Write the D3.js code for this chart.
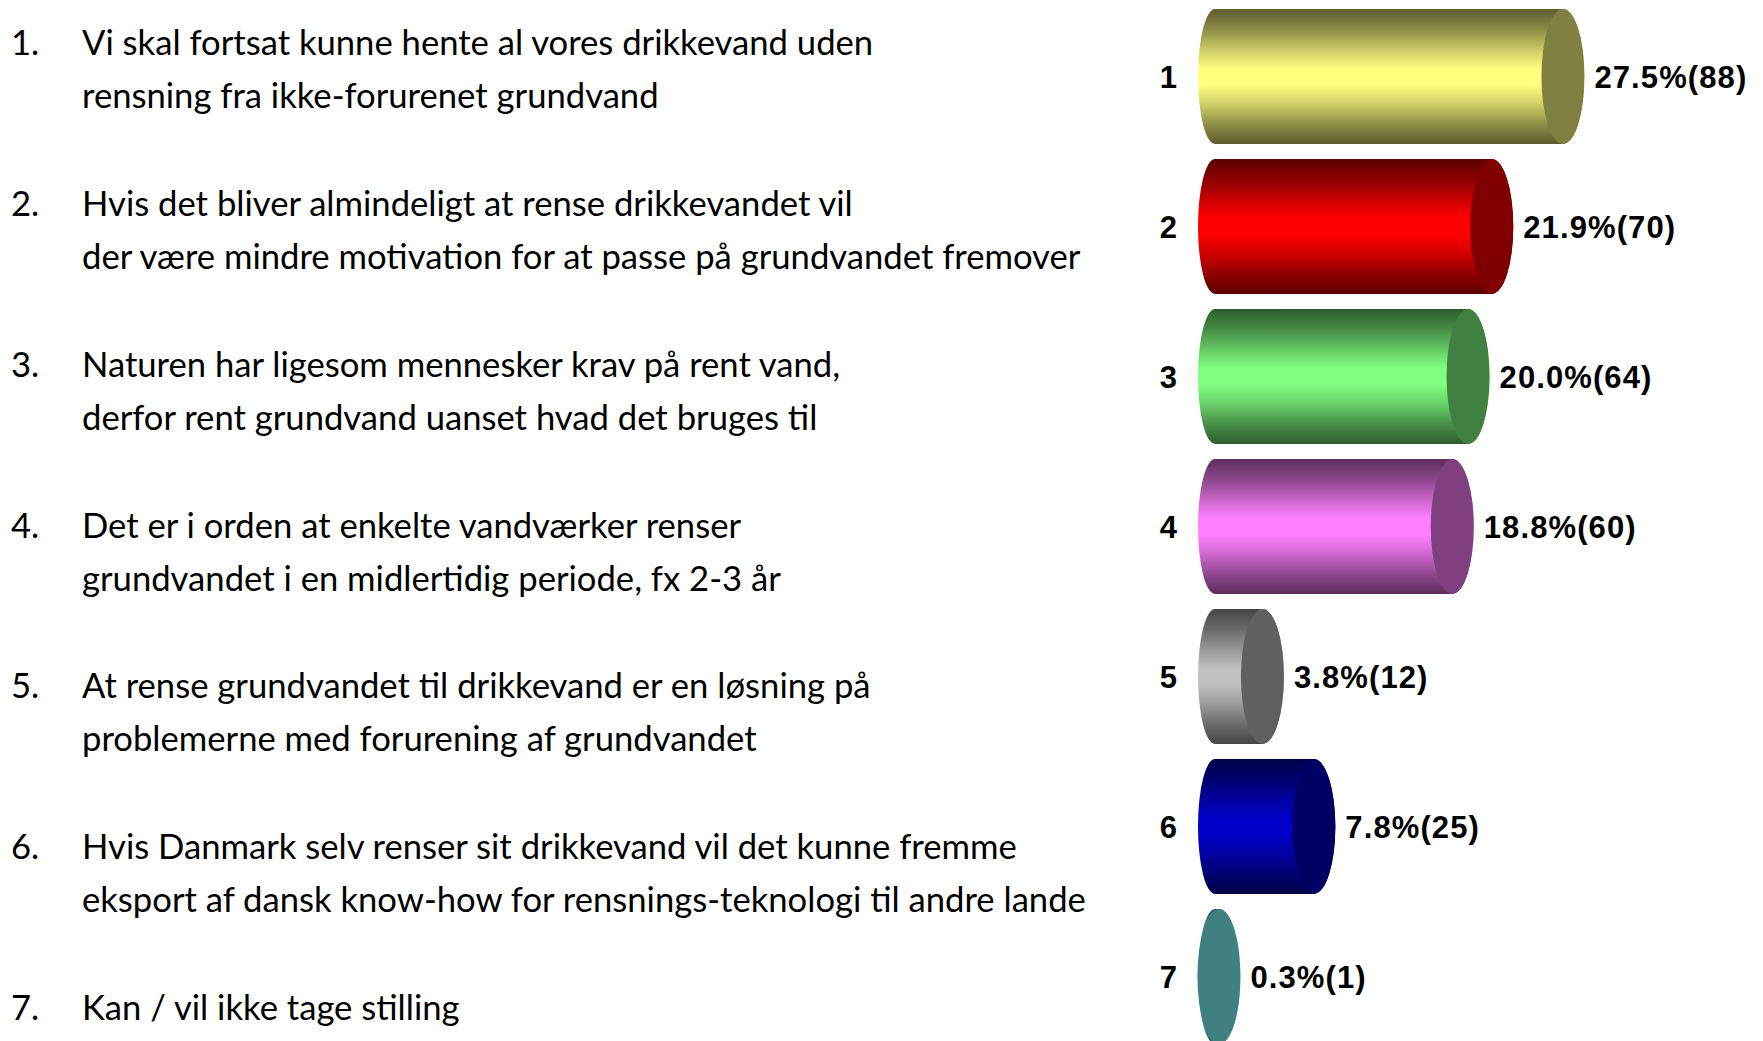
<!DOCTYPE html>
<html lang="da">
<head>
<meta charset="UTF-8">
<title>Grundvand</title>
<script src="https://cdn.jsdelivr.net/npm/d3@7"></script>
<style>
  html, body { margin: 0; padding: 0; background: #fff; }
  svg { display: block; }
  .stmt { font-family: Lato, "Open Sans", sans-serif; fill: #000; }
  .lbl { font-family: "Liberation Sans", Arial, sans-serif; font-weight: bold; fill: #000; }
</style>
</head>
<body>
<svg id="chart" width="1763" height="1041"></svg>
<script>
// data
const categories = ["1", "2", "3", "4", "5", "6", "7"];
const counts = [88, 70, 64, 60, 12, 25, 1];
const percents = [27.5, 21.9, 20.0, 18.8, 3.8, 7.8, 0.3];
const colors = ["#ffff80", "#ff0000", "#80ff80", "#ff80ff", "#c0c0c0", "#0000c8", "#80ffff"];
const statements = [
  ["Vi skal fortsat kunne hente al vores drikkevand uden", "rensning fra ikke-forurenet grundvand"],
  ["Hvis det bliver almindeligt at rense drikkevandet vil", "der være mindre motivation for at passe på grundvandet fremover"],
  ["Naturen har ligesom mennesker krav på rent vand,", "derfor rent grundvand uanset hvad det bruges til"],
  ["Det er i orden at enkelte vandværker renser", "grundvandet i en midlertidig periode, fx 2-3 år"],
  ["At rense grundvandet til drikkevand er en løsning på", "problemerne med forurening af grundvandet"],
  ["Hvis Danmark selv renser sit drikkevand vil det kunne fremme", "eksport af dansk know-how for rensnings-teknologi til andre lande"],
  ["Kan / vil ikke tage stilling"]
];

const svg = d3.select("#chart");

// ---- left: the statements ----
const textY = d3.scaleLinear().domain([0, 6]).range([55, 1020]);
const lineGap = 53;

const items = svg.append("g");
items.selectAll("g")
  .data(statements)
  .join("g")
  .each(function (lines, i) {
    const g = d3.select(this);
    g.append("text").attr("class", "stmt num")
      .attr("x", 11).attr("y", textY(i))
      .text((i + 1) + ".");
    lines.forEach((l, j) => {
      g.append("text").attr("class", "stmt line")
        .attr("x", 82).attr("y", textY(i) + j * lineGap)
        .text(l);
    });
  });

// fit font size so the longest line has the width seen in the picture
items.selectAll("text").style("font-size", "32px");
let widest = 0;
items.selectAll("text.line").each(function () { widest = Math.max(widest, this.getComputedTextLength()); });
const fs = 32 * 1004 / widest;
items.selectAll("text").style("font-size", fs + "px");

// ---- right: cylinders ----
const x = d3.scaleLinear().domain([0, 100]).range([1215, 1215 + 395.4]);
const y = d3.scaleBand().domain(categories).range([1.5, 1051.5]).paddingInner(0.1).paddingOuter(0.05);
const ry = y.bandwidth() / 2;
const rx = 21.5;     // front cap
const rxBack = 17;   // rounded back end

const defs = svg.append("defs");
colors.forEach((c, i) => {
  const base = d3.rgb(c);
  const shade = k => d3.rgb(base.r * k, base.g * k, base.b * k).formatHex();
  const grad = defs.append("linearGradient")
    .attr("id", "g" + i).attr("x1", 0).attr("y1", 0).attr("x2", 0).attr("y2", 1);
  [[0, 0.36], [0.15, 0.55], [0.32, 0.82], [0.44, 1], [0.56, 1], [0.7, 0.82], [0.86, 0.55], [1, 0.36]]
    .forEach(([o, k]) => grad.append("stop").attr("offset", o).attr("stop-color", shade(k)));
});

const bars = svg.append("g").selectAll("g")
  .data(categories)
  .join("g");

bars.append("path")
  .attr("fill", (d, i) => "url(#g" + i + ")")
  .attr("d", (d, i) => {
    const x0 = x(0), x1 = x(counts[i]), cy = y(d) + ry;
    return `M${x0},${cy - ry} A${rxBack},${ry} 0 0 0 ${x0},${cy + ry} L${x1},${cy + ry} A${rx},${ry} 0 0 0 ${x1},${cy - ry} Z`;
  });

bars.append("ellipse")
  .attr("cx", (d, i) => x(counts[i]))
  .attr("cy", d => y(d) + ry)
  .attr("rx", rx).attr("ry", ry)
  .attr("fill", (d, i) => { const b = d3.rgb(colors[i]); return d3.rgb(b.r * 0.5, b.g * 0.5, b.b * 0.5).formatHex(); });

bars.append("text").attr("class", "lbl")
  .attr("x", 1177).attr("y", d => y(d) + ry)
  .attr("dy", "0.36em").attr("text-anchor", "end")
  .style("font-size", "31px")
  .text(d => d);

bars.append("text").attr("class", "lbl")
  .attr("x", (d, i) => x(counts[i]) + rx + 10)
  .attr("y", d => y(d) + ry)
  .attr("dy", "0.36em")
  .style("font-size", "31px")
  .style("letter-spacing", "1.1px")
  .text((d, i) => percents[i].toFixed(1) + "%(" + counts[i] + ")");
</script>
</body>
</html>
